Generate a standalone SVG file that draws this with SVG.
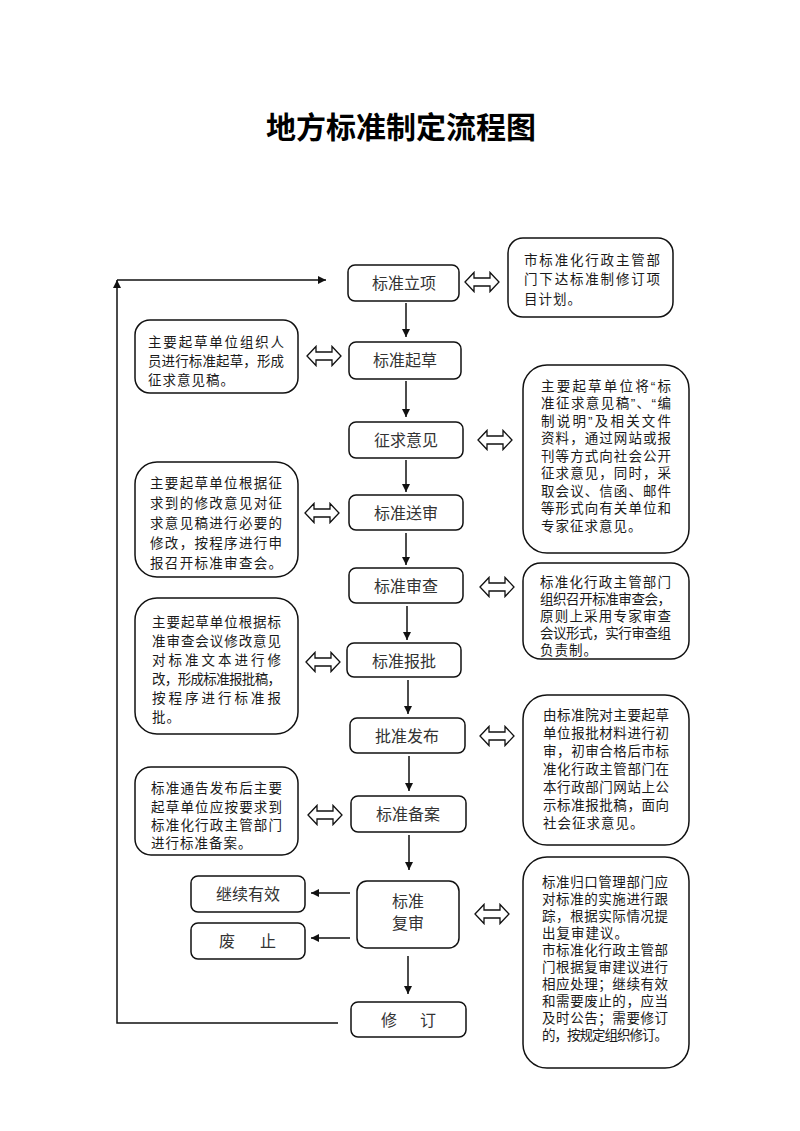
<svg xmlns="http://www.w3.org/2000/svg" xmlns:xlink="http://www.w3.org/1999/xlink" width="800" height="1131" viewBox="0 0 800 1131">
<style>
  .bg { fill: #ffffff; }
  .main { fill: #ffffff; stroke: #111; stroke-width: 1.5; }
  .side { fill: #ffffff; stroke: #111; stroke-width: 1.5; }
  .mt { font-family: "Liberation Sans", "Noto Sans CJK SC", sans-serif; font-size: 16px; fill: #333; text-anchor: middle; dominant-baseline: central; }
  .st { font-family: "Liberation Sans", "Noto Sans CJK SC", sans-serif; font-size: 13.5px; fill: #1a1a1a; dominant-baseline: central; letter-spacing: 1px; }
  .title { font-family: "Liberation Sans", "Noto Sans CJK SC", sans-serif; font-size: 30px; font-weight: bold; fill: #000; text-anchor: middle; dominant-baseline: central; }
  .ln { fill: none; stroke: #111; stroke-width: 1.5; }
  .dbl { fill: #ffffff; stroke: #111; stroke-width: 1.3; stroke-linejoin: miter; }
</style>
<defs>
  <marker id="ah" viewBox="0 0 10 10" refX="10" refY="5" markerWidth="9" markerHeight="8" markerUnits="userSpaceOnUse" orient="auto">
    <path d="M0,0 L10,5 L0,10 Z" fill="#111"/>
  </marker>
  <path id="dbl" class="dbl" d="M-17,0 L-8,-9.5 L-8,-4 L8,-4 L8,-9.5 L17,0 L8,9.5 L8,4 L-8,4 L-8,9.5 Z"/>
</defs>
<rect class="bg" x="0" y="0" width="800" height="1131"/>

<text id="title" class="title" x="401" y="127">地方标准制定流程图</text>

<g id="connectors">
  <line class="ln" x1="406" y1="303" x2="406" y2="337" marker-end="url(#ah)"/>
  <line class="ln" x1="406" y1="381" x2="406" y2="417" marker-end="url(#ah)"/>
  <line class="ln" x1="406" y1="460" x2="406" y2="492" marker-end="url(#ah)"/>
  <line class="ln" x1="406" y1="533" x2="406" y2="565" marker-end="url(#ah)"/>
  <line class="ln" x1="407" y1="606" x2="407" y2="640" marker-end="url(#ah)"/>
  <line class="ln" x1="408" y1="680" x2="408" y2="714" marker-end="url(#ah)"/>
  <line class="ln" x1="409" y1="756" x2="409" y2="791" marker-end="url(#ah)"/>
  <line class="ln" x1="409" y1="835" x2="409" y2="870" marker-end="url(#ah)"/>
  <line class="ln" x1="408" y1="956" x2="408" y2="994" marker-end="url(#ah)"/>
  <line class="ln" x1="350" y1="893" x2="311" y2="893" marker-end="url(#ah)"/>
  <line class="ln" x1="350" y1="938" x2="311" y2="938" marker-end="url(#ah)"/>
  <polyline class="ln" points="338,1023 117,1023 117,280" marker-end="url(#ah)"/>
  <line class="ln" x1="117" y1="280" x2="326" y2="280" marker-end="url(#ah)"/>
  <use xlink:href="#dbl" href="#dbl" x="482" y="282"/>
  <use xlink:href="#dbl" href="#dbl" x="324" y="356"/>
  <use xlink:href="#dbl" href="#dbl" x="495" y="440"/>
  <use xlink:href="#dbl" href="#dbl" x="322" y="513"/>
  <use xlink:href="#dbl" href="#dbl" x="497" y="587"/>
  <use xlink:href="#dbl" href="#dbl" x="323" y="662"/>
  <use xlink:href="#dbl" href="#dbl" x="497" y="736"/>
  <use xlink:href="#dbl" href="#dbl" x="325" y="815"/>
  <use xlink:href="#dbl" href="#dbl" x="492" y="914"/>
</g>

<g id="n-lixiang">
  <rect class="main" x="348" y="265" width="111" height="36" rx="7"/>
  <text class="mt" x="404" y="283">标准立项</text>
</g>
<g id="n-qicao">
  <rect class="main" x="349" y="342" width="112" height="37" rx="7"/>
  <text class="mt" x="405" y="360">标准起草</text>
</g>
<g id="n-zhengqiu">
  <rect class="main" x="349" y="422" width="114" height="36" rx="7"/>
  <text class="mt" x="406" y="440">征求意见</text>
</g>
<g id="n-songshen">
  <rect class="main" x="349" y="495" width="114" height="35" rx="7"/>
  <text class="mt" x="406" y="513">标准送审</text>
</g>
<g id="n-shencha">
  <rect class="main" x="349" y="568" width="114" height="35" rx="7"/>
  <text class="mt" x="406" y="586">标准审查</text>
</g>
<g id="n-baopi">
  <rect class="main" x="347" y="643" width="114" height="34" rx="7"/>
  <text class="mt" x="404" y="661">标准报批</text>
</g>
<g id="n-fabu">
  <rect class="main" x="350" y="718" width="115" height="35" rx="7"/>
  <text class="mt" x="407" y="736">批准发布</text>
</g>
<g id="n-beian">
  <rect class="main" x="351" y="796" width="115" height="36" rx="7"/>
  <text class="mt" x="408" y="814">标准备案</text>
</g>
<g id="n-fushen">
  <rect class="main" x="357" y="881" width="102" height="67" rx="10"/>
  <text class="mt" x="408" y="901">标准</text>
  <text class="mt" x="408" y="923">复审</text>
</g>
<g id="n-jixu">
  <rect class="main" x="191" y="876" width="114" height="36" rx="7"/>
  <text class="mt" x="248" y="894">继续有效</text>
</g>
<g id="n-feizhi">
  <rect class="main" x="191" y="923" width="114" height="36" rx="7"/>
  <text class="mt" y="941"><tspan x="227">废</tspan><tspan x="268">止</tspan></text>
</g>
<g id="n-xiuding">
  <rect class="main" x="351" y="1002" width="115" height="35" rx="7"/>
  <text class="mt" y="1020"><tspan x="389">修</tspan><tspan x="428">订</tspan></text>
</g>

<g id="r1">
  <rect class="side" x="508" y="238" width="165" height="79" rx="15"/>
  <text class="st" x="524" y="260" textLength="137" lengthAdjust="spacing">市标准化行政主管部</text>
  <text class="st" x="524" y="279" textLength="137" lengthAdjust="spacing">门下达标准制修订项</text>
  <text class="st" x="524" y="299" letter-spacing="2">目计划。</text>
</g>
<g id="l1">
  <rect class="side" x="135" y="320" width="163" height="73" rx="15"/>
  <text class="st" x="148" y="342" textLength="137" lengthAdjust="spacing">主要起草单位组织人</text>
  <text class="st" x="148" y="361" textLength="137" lengthAdjust="spacing">员进行标准起草，形成</text>
  <text class="st" x="148" y="380" letter-spacing="1.5">征求意见稿。</text>
</g>
<g id="r2">
  <rect class="side" x="523" y="365" width="166" height="188" rx="24"/>
  <text class="st" x="541" y="386" textLength="131" lengthAdjust="spacing">主要起草单位将“标</text>
  <text class="st" x="541" y="403.5" textLength="131" lengthAdjust="spacing">准征求意见稿”、“编</text>
  <text class="st" x="541" y="421" textLength="131" lengthAdjust="spacing">制说明”及相关文件</text>
  <text class="st" x="541" y="438.5" textLength="131" lengthAdjust="spacing">资料，通过网站或报</text>
  <text class="st" x="541" y="456" textLength="131" lengthAdjust="spacing">刊等方式向社会公开</text>
  <text class="st" x="541" y="473.5" textLength="131" lengthAdjust="spacing">征求意见，同时，采</text>
  <text class="st" x="541" y="491" textLength="131" lengthAdjust="spacing">取会议、信函、邮件</text>
  <text class="st" x="541" y="508.5" textLength="131" lengthAdjust="spacing">等形式向有关单位和</text>
  <text class="st" x="541" y="526">专家征求意见。</text>
</g>
<g id="l2">
  <rect class="side" x="135" y="462" width="163" height="115" rx="22"/>
  <text class="st" x="150" y="483" textLength="133" lengthAdjust="spacing">主要起草单位根据征</text>
  <text class="st" x="150" y="503" textLength="133" lengthAdjust="spacing">求到的修改意见对征</text>
  <text class="st" x="150" y="523" textLength="133" lengthAdjust="spacing">求意见稿进行必要的</text>
  <text class="st" x="150" y="543" textLength="133" lengthAdjust="spacing">修改，按程序进行申</text>
  <text class="st" x="150" y="563" textLength="133" lengthAdjust="spacing">报召开标准审查会。</text>
</g>
<g id="r3">
  <rect class="side" x="523" y="563" width="166" height="96" rx="18"/>
  <text class="st" x="540" y="582" textLength="132" lengthAdjust="spacing">标准化行政主管部门</text>
  <text class="st" x="540" y="599" textLength="132" lengthAdjust="spacing">组织召开标准审查会，</text>
  <text class="st" x="540" y="616" textLength="132" lengthAdjust="spacing">原则上采用专家审查</text>
  <text class="st" x="540" y="633" textLength="132" lengthAdjust="spacing">会议形式，实行审查组</text>
  <text class="st" x="540" y="650">负责制。</text>
</g>
<g id="l3">
  <rect class="side" x="135" y="598" width="163" height="136" rx="22"/>
  <text class="st" x="152" y="622" textLength="130" lengthAdjust="spacing">主要起草单位根据标</text>
  <text class="st" x="152" y="641" textLength="130" lengthAdjust="spacing">准审查会议修改意见</text>
  <text class="st" x="152" y="660" textLength="130" lengthAdjust="spacing">对标准文本进行修</text>
  <text class="st" x="152" y="679" textLength="130" lengthAdjust="spacing">改，形成标准报批稿，</text>
  <text class="st" x="152" y="698" textLength="130" lengthAdjust="spacing">按程序进行标准报</text>
  <text class="st" x="152" y="717">批。</text>
</g>
<g id="r4">
  <rect class="side" x="523" y="695" width="166" height="150" rx="24"/>
  <text class="st" x="543" y="715" textLength="127" lengthAdjust="spacing">由标准院对主要起草</text>
  <text class="st" x="543" y="733" textLength="127" lengthAdjust="spacing">单位报批材料进行初</text>
  <text class="st" x="543" y="751" textLength="127" lengthAdjust="spacing">审，初审合格后市标</text>
  <text class="st" x="543" y="769" textLength="127" lengthAdjust="spacing">准化行政主管部门在</text>
  <text class="st" x="543" y="787" textLength="127" lengthAdjust="spacing">本行政部门网站上公</text>
  <text class="st" x="543" y="805" textLength="127" lengthAdjust="spacing">示标准报批稿，面向</text>
  <text class="st" x="543" y="823">社会征求意见。</text>
</g>
<g id="l4">
  <rect class="side" x="135" y="767" width="163" height="88" rx="16"/>
  <text class="st" x="151" y="788" textLength="132" lengthAdjust="spacing">标准通告发布后主要</text>
  <text class="st" x="151" y="807" textLength="132" lengthAdjust="spacing">起草单位应按要求到</text>
  <text class="st" x="151" y="825" textLength="132" lengthAdjust="spacing">标准化行政主管部门</text>
  <text class="st" x="151" y="843">进行标准备案。</text>
</g>
<g id="r5">
  <rect class="side" x="523" y="857" width="166" height="211" rx="24"/>
  <text class="st" x="542" y="882" textLength="127" lengthAdjust="spacing">标准归口管理部门应</text>
  <text class="st" x="542" y="899" textLength="127" lengthAdjust="spacing">对标准的实施进行跟</text>
  <text class="st" x="542" y="916" textLength="127" lengthAdjust="spacing">踪，根据实际情况提</text>
  <text class="st" x="542" y="933">出复审建议。</text>
  <text class="st" x="542" y="950" textLength="127" lengthAdjust="spacing">市标准化行政主管部</text>
  <text class="st" x="542" y="967" textLength="127" lengthAdjust="spacing">门根据复审建议进行</text>
  <text class="st" x="542" y="984" textLength="127" lengthAdjust="spacing">相应处理；继续有效</text>
  <text class="st" x="542" y="1001" textLength="127" lengthAdjust="spacing">和需要废止的，应当</text>
  <text class="st" x="542" y="1018" textLength="127" lengthAdjust="spacing">及时公告；需要修订</text>
  <text class="st" x="542" y="1035" textLength="127" lengthAdjust="spacing">的，按规定组织修订。</text>
</g>
</svg>
